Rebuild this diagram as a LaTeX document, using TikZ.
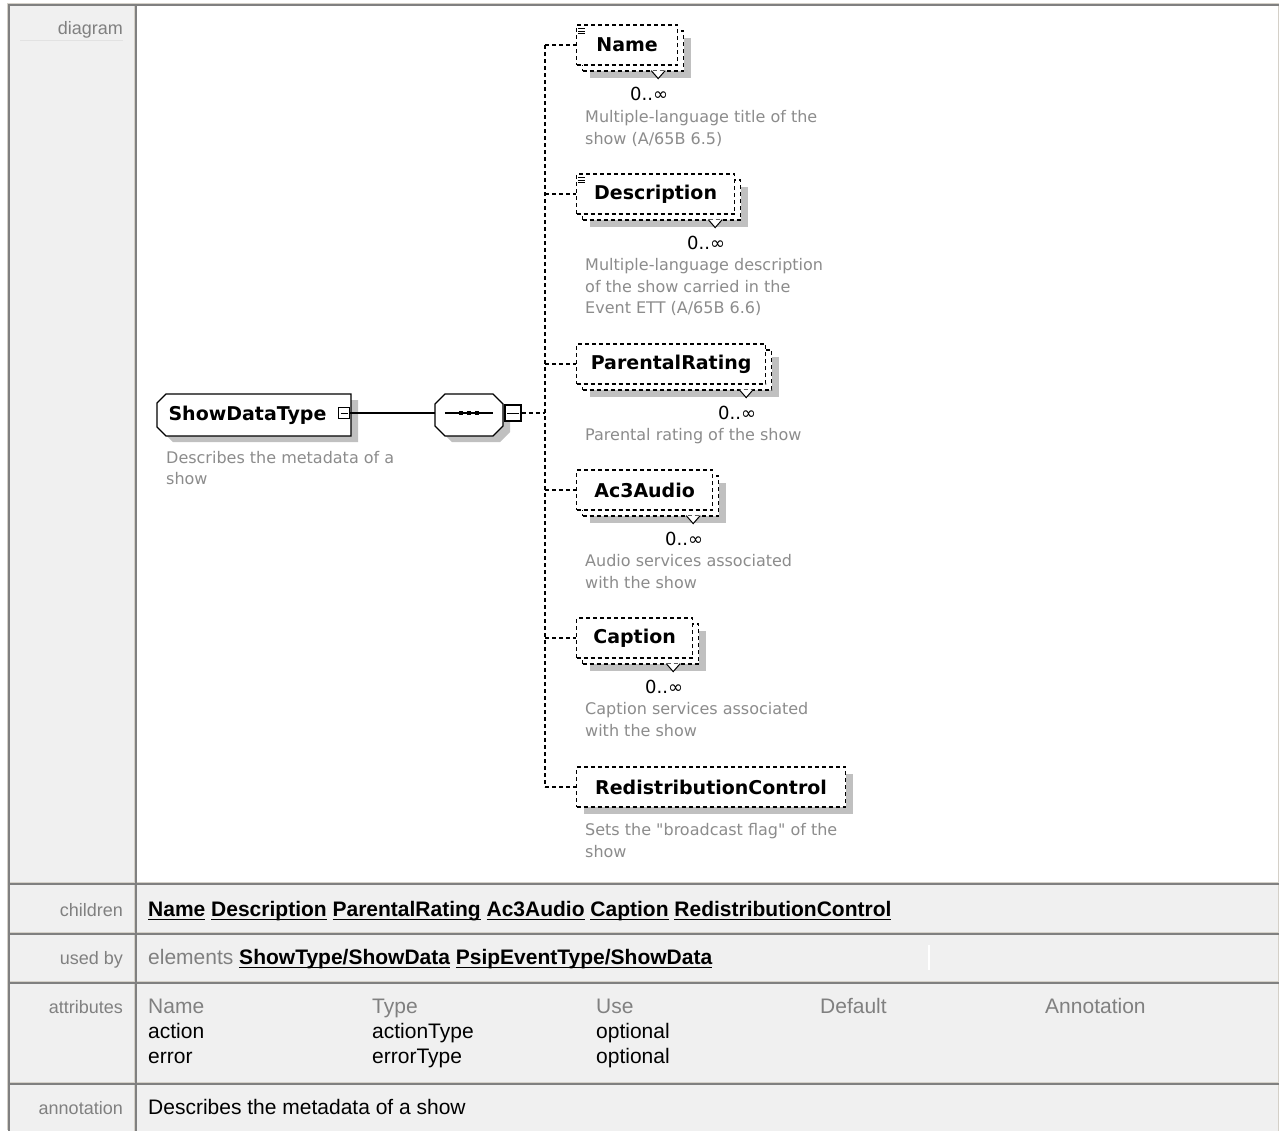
\documentclass[tikz,border=0pt]{standalone}
\usepackage{fontspec}
\setmainfont{Liberation Sans}
\newfontfamily\diagfont{DejaVu Sans}
\usepackage{tikz}
\usetikzlibrary{positioning, shadows}
\definecolor{labelgray}{HTML}{808080}
\definecolor{infogray}{HTML}{8C8C8C}
\definecolor{cellgray}{HTML}{F0F0F0}
\definecolor{edgelight}{HTML}{D4D0C8}
\definecolor{edgedark}{HTML}{808080}
\definecolor{shadowgray}{HTML}{C0C0C0}
\definecolor{rulefaint}{HTML}{E2E2E2}
\newcommand{\reflink}[1]{\textbf{\vtop{\hbox{\smash{#1}}\kern2.5pt\hrule height 1.8pt}}}
\newcommand{\tabcell}[5]{%
  \fill[#5] (#1,#2) rectangle (#3,#4);
  \draw[edgelight, line width=1.5pt] (#3-0.75,#2) -- (#3-0.75,#4-0.75) -- (#1,#4-0.75);
  \draw[edgedark, line width=2pt] (#1+1,#4) -- (#1+1,#2+1) -- (#3,#2+1);}
\newcommand{\typeoutline}[6]{%
  \fill[shadowgray, shift={(7,6)}] (#1+#5,#2) -- (#3-#6,#2) -- (#3,#2+#6) -- (#3,#4-#6) -- (#3-#6,#4) -- (#1+#5,#4) -- (#1,#4-#5) -- (#1,#2+#5) -- cycle;
  \draw[solidline, fill=white] (#1+#5,#2) -- (#3-#6,#2) -- (#3,#2+#6) -- (#3,#4-#6) -- (#3-#6,#4) -- (#1+#5,#4) -- (#1,#4-#5) -- (#1,#2+#5) -- cycle;}
\tikzset{
    solidline/.style={line width=1.2pt},
    dashline/.style={line width=1.2pt, dash pattern=on 4pt off 3pt},
    elem/.style={draw, dashline, fill=white, rectangle, minimum height=40pt, inner sep=0pt, anchor=west, font=\diagfont\bfseries\fontsize{19}{23}\selectfont},
    singleelem/.style={elem, general shadow={fill=shadowgray, shadow xshift=7pt, shadow yshift=-7pt}},
    multielem/.style={elem, general shadow={fill=shadowgray, shadow xshift=13pt, shadow yshift=-13pt}, general shadow={draw, fill=white, dashline, shadow xshift=6pt, shadow yshift=-6pt}},
    typetext/.style={inner sep=0pt, minimum height=42pt, font=\diagfont\bfseries\fontsize{19}{23}\selectfont},
    minusbox/.style={draw, solidline, fill=white, rectangle, minimum size=#1, inner sep=0pt, path picture={\draw[line width=1pt] ([xshift=2pt]path picture bounding box.west) -- ([xshift=-2pt]path picture bounding box.east);}},
    minusbox/.default=12pt,
    mult/.style={anchor=base east, inner sep=0pt, font=\diagfont\fontsize{18}{22}\selectfont},
    info/.style={anchor=north west, inner sep=0pt, align=left, text=infogray, font=\diagfont\fontsize{16}{21.5}\selectfont},
    rowlabel/.style={anchor=base east, inner sep=0pt, text=labelgray, font=\fontsize{18}{22}\selectfont},
    rowtext/.style={anchor=base west, inner sep=0pt, font=\fontsize{21}{25}\selectfont},
}
\begin{document}
\begin{tikzpicture}[x=1pt, y=-1pt]
    \useasboundingbox (0,0) rectangle (1279,1130);
    \fill[white] (0,0) rectangle (1279,1130);
    \draw[edgelight, line width=1pt] (7.5,1130) -- (7.5,3.5) -- (1279,3.5);

    \tabcell{8}{4}{135}{883}{cellgray}
    \tabcell{135}{4}{1279}{883}{white}
    \tabcell{8}{883}{135}{933}{cellgray}
    \tabcell{135}{883}{1279}{933}{cellgray}
    \tabcell{8}{933}{135}{982}{cellgray}
    \tabcell{135}{933}{1279}{982}{cellgray}
    \tabcell{8}{982}{135}{1083}{cellgray}
    \tabcell{135}{982}{1279}{1083}{cellgray}
    \tabcell{8}{1083}{135}{1140}{cellgray}
    \tabcell{135}{1083}{1279}{1140}{cellgray}
    \draw[rulefaint, line width=1pt] (20,40) -- (123,40);
    \draw[white, line width=1.5pt] (929,945) -- (929,970);

    \node[rowlabel] (lbldiagram) at (123,34) {diagram};
    \node[rowlabel] (lblchildren) at (123,916) {children};
    \node[rowlabel] (lblusedby) at (123,964) {used by};
    \node[rowlabel] (lblattr) at (123,1013) {attributes};
    \node[rowlabel] (lblannot) at (123,1114) {annotation};

    \node[rowtext] (childlist) at (148,916) {\reflink{Name} \reflink{Description} \reflink{ParentalRating} \reflink{Ac3Audio} \reflink{Caption} \reflink{RedistributionControl}};
    \node[rowtext] (usedlist) at (148,964) {\textcolor{labelgray}{elements} \reflink{ShowType/ShowData} \reflink{PsipEventType/ShowData}};
    \node[rowtext, text=labelgray] (attrname) at (148,1013) {Name};
    \node[rowtext, text=labelgray] (attrtype) at (372,1013) {Type};
    \node[rowtext, text=labelgray] (attruse) at (596,1013) {Use};
    \node[rowtext, text=labelgray] (attrdefault) at (820,1013) {Default};
    \node[rowtext, text=labelgray] (attrannot) at (1045,1013) {Annotation};
    \node[rowtext] (actionname) at (148,1038) {action};
    \node[rowtext] (actiontype) at (372,1038) {actionType};
    \node[rowtext] (actionuse) at (596,1038) {optional};
    \node[rowtext] (errorname) at (148,1063) {error};
    \node[rowtext] (errortype) at (372,1063) {errorType};
    \node[rowtext] (erroruse) at (596,1063) {optional};
    \node[rowtext] (annottext) at (148,1114) {Describes the metadata of a show};

    \typeoutline{157}{394}{351}{436}{9}{0}
    \typeoutline{435}{394}{503}{436}{10}{10}
    \node[typetext, minimum width=194pt] (showtype) at (254,415) {ShowDataType\hspace*{13pt}};
    \node[info] (showinfo) at (166,451) {Describes the metadata of a\\show};
    \node[minusbox=11pt] (showmin) at (344,413) {};
    \node[typetext, minimum width=68pt] (seq) at (469,415) {};
    \node[minusbox=16pt] (seqmin) at (513,413) {};
    \draw[solidline] (showmin.east) -- (showmin.east -| seq.west);
    \draw[solidline] ([shift={(10,-2)}]seq.west) -- ([shift={(-10,-2)}]seq.east);
    \foreach \dx in {-8,0,8}
        \fill ([shift={(\dx-2,-4)}]seq.center) rectangle ++(4,4);
    \coordinate (bus) at (545,413);

    \node[multielem, minimum width=101pt] (name) at (576,45) {Name};
    \node[multielem, minimum width=158pt] (desc) at (576,194) {Description};
    \node[multielem, minimum width=189pt] (prate) at (576,364) {ParentalRating};
    \node[multielem, minimum width=136pt] (ac3) at (576,490) {Ac3Audio};
    \node[multielem, minimum width=116pt] (caption) at (576,638) {Caption};
    \node[singleelem, minimum width=269pt] (redist) at (576,787) {RedistributionControl};

    \foreach \child in {name,desc,prate,ac3,caption}{
        \draw[line width=1pt, fill=white] ([shift={(-27,5)}]\child.south east) -- ([shift={(-20,13)}]\child.south east) -- ([shift={(-13,5)}]\child.south east);
        \node[mult] (\child mult) at ([shift={(-10,35)}]\child.south east) {0..∞};
    }
    \foreach \child in {name,desc}
        \foreach \dy in {4,6.5,9}
            \draw[line width=0.8pt] ([shift={(2,\dy)}]\child.north west) -- ++(7,0);

    \node[info] (nameinfo) at ([shift={(9,45)}]name.south west) {Multiple-language title of the\\show (A/65B 6.5)};
    \node[info] (descinfo) at ([shift={(9,44)}]desc.south west) {Multiple-language description\\of the show carried in the\\Event ETT (A/65B 6.6)};
    \node[info] (prateinfo) at ([shift={(9,44)}]prate.south west) {Parental rating of the show};
    \node[info] (ac3info) at ([shift={(9,44)}]ac3.south west) {Audio services associated\\with the show};
    \node[info] (captioninfo) at ([shift={(9,44)}]caption.south west) {Caption services associated\\with the show};
    \node[info] (redistinfo) at ([shift={(9,16)}]redist.south west) {Sets the "broadcast flag" of the\\show};

    \draw[dashline] (seqmin.east) -- (bus);
    \draw[dashline] (name.west -| bus) -- (redist.west -| bus);
    \foreach \child in {name,desc,prate,ac3,caption,redist}
        \draw[dashline] (\child.west -| bus) -- (\child.west);
\end{tikzpicture}
\end{document}
